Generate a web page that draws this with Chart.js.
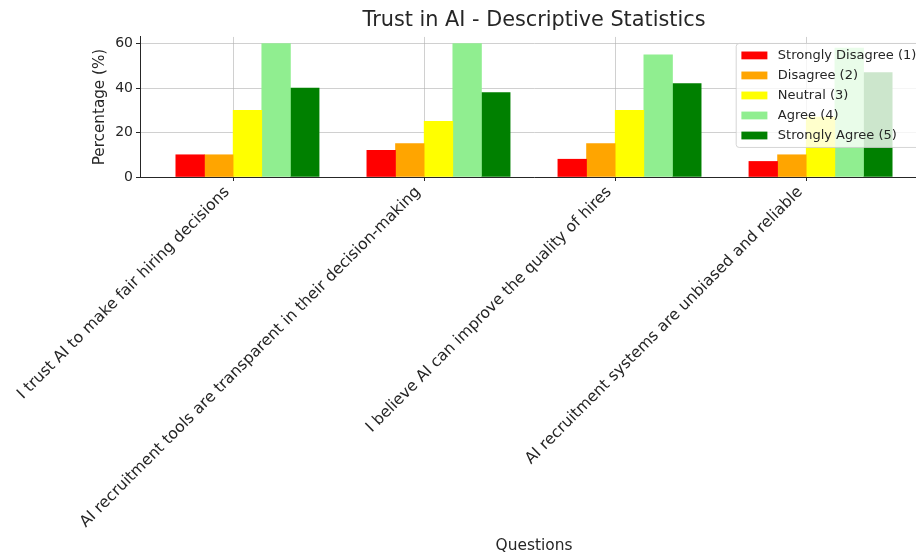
<!DOCTYPE html>
<html>
<head>
<meta charset="utf-8">
<script src="https://cdn.jsdelivr.net/npm/chart.js@4/dist/chart.umd.min.js"></script>
<style>
  html, body { margin: 0; padding: 0; background: #ffffff; overflow: hidden; }
  #wrap { width: 928px; height: 557px; }
</style>
</head>
<body>
<div id="wrap"><canvas id="chart" width="928" height="557"></canvas></div>
<script>
// Survey questions (x categories)
const questions = [
  'I trust AI to make fair hiring decisions',
  'AI recruitment tools are transparent in their decision-making',
  'I believe AI can improve the quality of hires',
  'AI recruitment systems are unbiased and reliable'
];

// Response levels and their colours
const responseLabels = ['Strongly Disagree (1)', 'Disagree (2)', 'Neutral (3)', 'Agree (4)', 'Strongly Agree (5)'];
const responseColors = ['#ff0000', '#ffa500', '#ffff00', '#90ee90', '#008000'];

// Percentage of respondents per question, one array per response level
const stronglyDisagree = [10, 12, 8, 7];
const disagree         = [10, 15, 15, 10];
const neutral          = [30, 25, 30, 27];
const agree            = [60, 60, 55, 58];
const stronglyAgree    = [40, 38, 42, 47];

// Y-axis tick values
const yTicks = [0, 20, 40, 60];

const seriesValues = [stronglyDisagree, disagree, neutral, agree, stronglyAgree];

// Bars sit side by side, each 0.15 category units wide, starting two bars left of the tick
const BAR_W = 0.15;
const n = questions.length;
const xLo = -2 * BAR_W, xHi = (n - 1) + 3 * BAR_W;
const xPad = 0.05 * (xHi - xLo);
const yMax = Math.max(...seriesValues.flat()) * 1.05;

const datasets = seriesValues.map((vals, k) => ({
  label: responseLabels[k],
  backgroundColor: responseColors[k],
  borderWidth: 0,
  data: vals.map((v, i) => ({ x: i + (k - 1.5) * BAR_W, y: v }))
}));

const FONT = 'DejaVu Sans';
const TEXT = '#262626';
const GRID = 'rgba(176,176,176,0.6)';

// Legend drawn as a framed box inside the upper-right corner of the plot
const insideLegend = {
  id: 'insideLegend',
  afterDraw(chart, args, opts) {
    const { ctx, chartArea } = chart;
    const fs = opts.fontSize;
    ctx.save();
    ctx.font = `${fs}px "${opts.fontFamily}"`;
    const items = chart.data.datasets.map(ds => ({ text: ds.label, color: ds.backgroundColor }));
    const textW = Math.max(...items.map(it => ctx.measureText(it.text).width));
    const pad = 0.4 * fs, handleW = 2 * fs, handleGap = 0.8 * fs;
    const rowH = 1.04 * fs, rowGap = 0.5 * fs;
    const w = 2 * pad + handleW + handleGap + textW;
    const h = 2 * pad + items.length * rowH + (items.length - 1) * rowGap;
    const right = chartArea.right - 0.5 * fs;
    const top = chartArea.top + 0.5 * fs;
    const left = right - w;

    ctx.beginPath();
    ctx.roundRect(left, top, w, h, 3);
    ctx.fillStyle = 'rgba(255,255,255,0.8)';
    ctx.fill();
    ctx.lineWidth = 1;
    ctx.strokeStyle = 'rgba(204,204,204,0.8)';
    ctx.stroke();

    ctx.textBaseline = 'middle';
    ctx.textAlign = 'left';
    items.forEach((it, i) => {
      const cy = top + pad + rowH / 2 + i * (rowH + rowGap);
      const sh = 0.6 * fs;
      ctx.fillStyle = it.color;
      ctx.fillRect(left + pad, cy - sh / 2, handleW, sh);
      ctx.fillStyle = TEXT;
      ctx.fillText(it.text, left + pad + handleW + handleGap, cy + 0.5);
    });
    ctx.restore();
  }
};

new Chart(document.getElementById('chart'), {
  type: 'bar',
  data: { datasets },
  plugins: [insideLegend],
  options: {
    responsive: false,
    animation: false,
    devicePixelRatio: 1,
    layout: { padding: { left: 87, right: 0, top: 0, bottom: 0 } },
    datasets: {
      bar: { grouped: false, barPercentage: 1, categoryPercentage: 1 }
    },
    plugins: {
      legend: { display: false },
      tooltip: { enabled: false },
      title: {
        display: true,
        text: 'Trust in AI - Descriptive Statistics',
        fullSize: false,
        color: TEXT,
        font: { family: FONT, size: 20.8, weight: 'normal' },
        padding: { top: 8, bottom: 4 }
      },
      insideLegend: { fontSize: 13, fontFamily: FONT }
    },
    scales: {
      x: {
        type: 'linear',
        min: xLo - xPad,
        max: xHi + xPad,
        offset: false,
        afterBuildTicks: (scale) => { scale.ticks = questions.map((_, i) => ({ value: i })); },
        afterFit: (scale) => { scale.height = 380; },
        ticks: {
          autoSkip: false,
          minRotation: 45,
          maxRotation: 45,
          padding: 2,
          labelOffset: -6,
          color: TEXT,
          font: { family: FONT, size: 15.6 },
          callback: (v) => questions[Math.round(v)]
        },
        grid: {
          offset: false,
          color: GRID,
          lineWidth: 1,
          borderDash: [3, 2.5],
          drawTicks: true,
          tickLength: 4,
          tickColor: TEXT,
          tickWidth: 1,
          tickBorderDash: []
        },
        border: { display: true, color: TEXT, width: 1 },
        title: {
          display: true,
          text: 'Questions',
          color: TEXT,
          font: { family: FONT, size: 15.4 },
          padding: { top: 4, bottom: 1.5 }
        }
      },
      y: {
        min: 0,
        max: yMax,
        afterBuildTicks: (scale) => { scale.ticks = yTicks.map(v => ({ value: v })); },
        afterFit: (scale) => { scale.width = 53; },
        ticks: {
          padding: 3,
          color: TEXT,
          font: { family: FONT, size: 14 }
        },
        grid: {
          color: GRID,
          lineWidth: 1,
          borderDash: [3, 2.5],
          drawTicks: true,
          tickLength: 4,
          tickColor: TEXT,
          tickWidth: 1,
          tickBorderDash: []
        },
        border: { display: true, color: TEXT, width: 1 },
        title: {
          display: true,
          text: 'Percentage (%)',
          color: TEXT,
          font: { family: FONT, size: 15.2 },
          padding: { top: 4, bottom: 4 }
        }
      }
    }
  }
});
</script>
</body>
</html>
